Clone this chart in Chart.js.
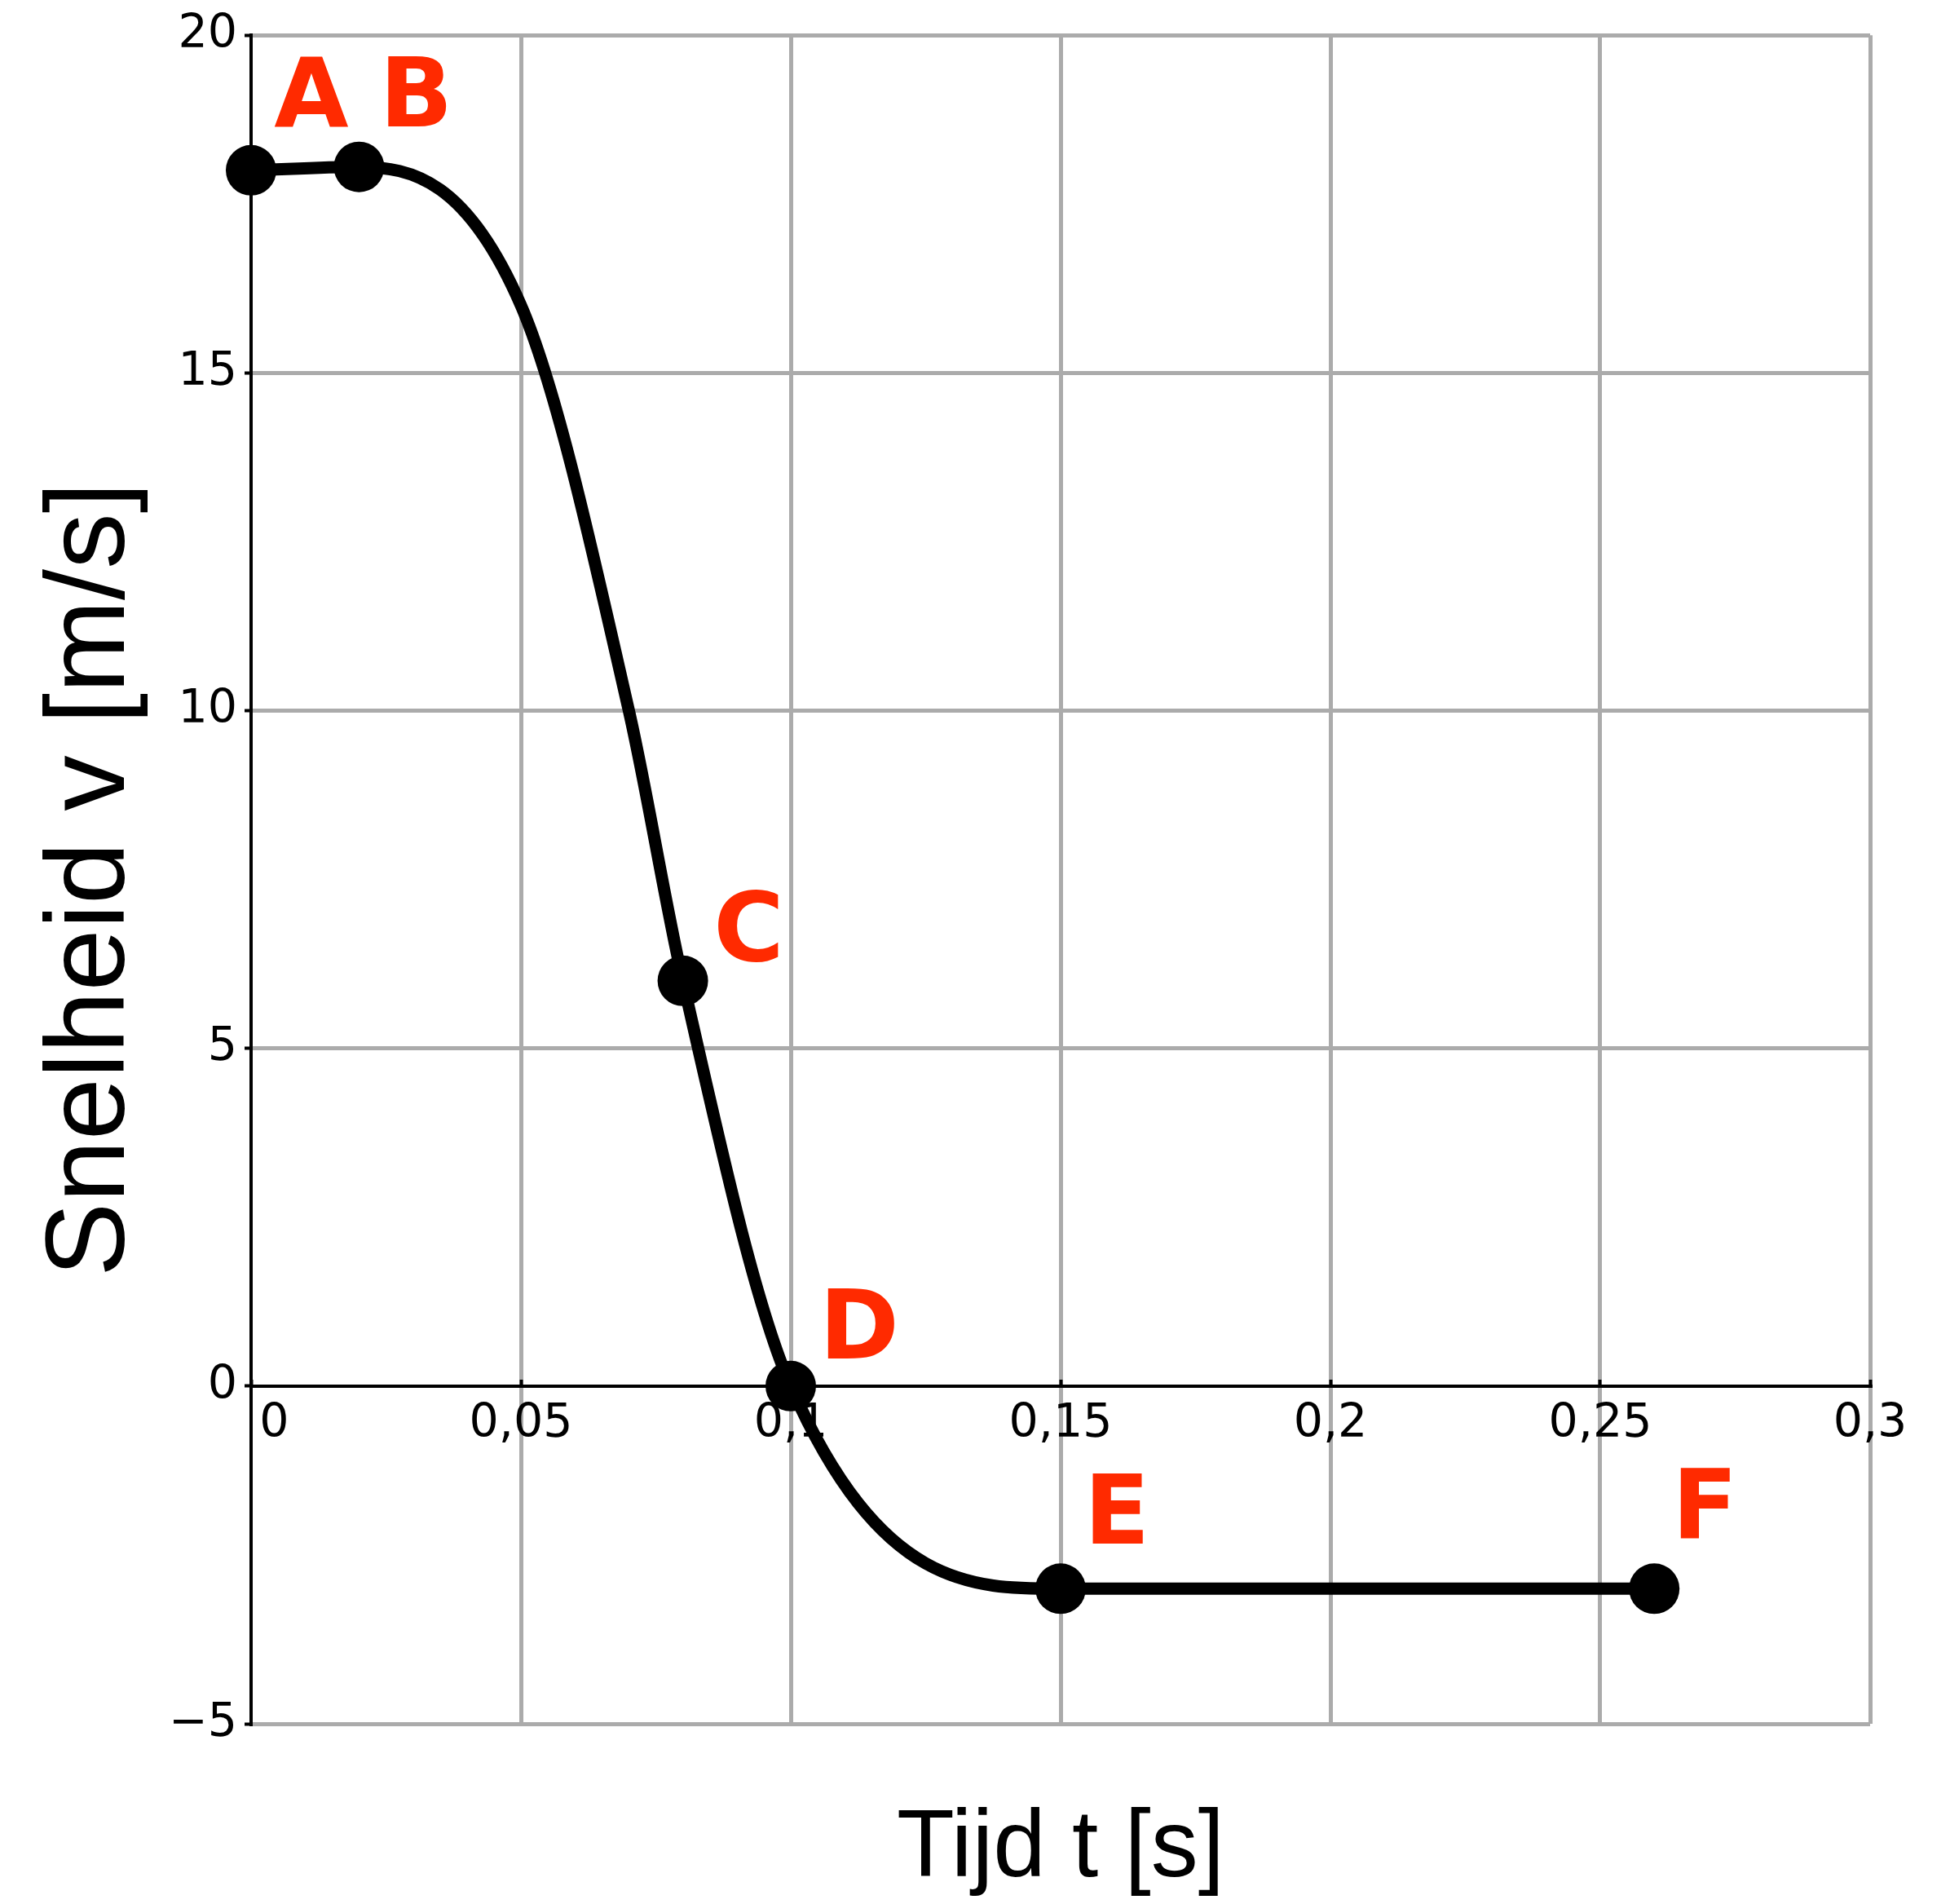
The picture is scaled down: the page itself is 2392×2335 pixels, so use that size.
<!DOCTYPE html>
<html><head><meta charset="utf-8">
<script src="https://cdn.jsdelivr.net/npm/chart.js@4.4.1/dist/chart.umd.min.js"></script>
<style>html,body{margin:0;padding:0;background:#fff;overflow:hidden}#wrap{width:2392px;height:2335px;position:relative}</style>
</head><body><div id="wrap"><canvas id="c"></canvas></div>
<script>
// curve (t in s, v in m/s)
const curveT = [0, 0.02, 0.05, 0.07, 0.08, 0.1, 0.15, 0.26];
const curveV = [18.0, 18.05, 16.0, 10.0, 6.0, 0, -3.0, -3.0];
// labelled points
const pointLabels = ['A', 'B', 'C', 'D', 'E', 'F'];
const pointT = [0, 0.02, 0.08, 0.1, 0.15, 0.26];
const pointV = [18.0, 18.05, 6.0, 0, -3.0, -3.0];
// tick labels
const xTickLabels = ['0', '0,05', '0,1', '0,15', '0,2', '0,25', '0,3'];
const yTickLabels = ['\u22125', '0', '5', '10', '15', '20'];
const xTitle = 'Tijd t [s]';
const yTitle = 'Snelheid v [m/s]';

const pointLabelPlugin = {
  id: 'pointLabels',
  afterDatasetsDraw(chart, args, opts) {
    const ctx = chart.ctx, xs = chart.scales.x, ys = chart.scales.y;
    ctx.save();
    ctx.font = 'bold ' + opts.size + 'px ' + opts.family;
    ctx.fillStyle = opts.color;
    ctx.textAlign = 'center';
    ctx.textBaseline = 'middle';
    pointLabels.forEach((lab, i) => {
      const off = opts.offsets[lab];
      ctx.fillText(lab, xs.getPixelForValue(pointT[i]) + off[0], ys.getPixelForValue(pointV[i]) + off[1]);
    });
    ctx.restore();
  }
};

const gridColor = c => (c.tick && c.tick.value === 0) ? 'rgba(0,0,0,0)' : '#ababab';
const tickFont = {family: '"DejaVu Sans"', size: 57};

new Chart(document.getElementById('c'), {
  type: 'line',
  data: {
    datasets: [
      {
        label: 'v(t)',
        data: curveT.map((t, i) => ({x: t, y: curveV[i]})),
        borderColor: '#000', borderWidth: 15, pointRadius: 0,
        cubicInterpolationMode: 'monotone', fill: false, clip: false,
        borderJoinStyle: 'round', borderCapStyle: 'round', order: 2
      },
      {
        label: 'punten', type: 'scatter',
        data: pointT.map((t, i) => ({x: t, y: pointV[i]})),
        pointRadius: 31, pointBackgroundColor: '#000', pointBorderWidth: 0,
        showLine: false, clip: false, order: 1
      }
    ]
  },
  options: {
    responsive: true, maintainAspectRatio: false, animation: false,
    layout: {padding: {top: 42, right: 98, bottom: 0, left: 0}},
    plugins: {
      legend: {display: false}, tooltip: {enabled: false},
      pointLabels: {
        size: 118, family: '"DejaVu Sans"', color: '#ff2a00',
        offsets: {A: [74, -84], B: [70, -80], C: [81, -56], D: [84, -64], E: [69, -86], F: [62, -93]}
      }
    },
    scales: {
      x: {
        type: 'linear', position: {y: 0}, min: 0, max: 0.3,
        ticks: {
          stepSize: 0.05, autoSkip: false, maxRotation: 0, padding: 23, color: '#000', font: tickFont,
          callback: (v, i) => i === 0 ? '\u2002\u2002' + xTickLabels[0] : xTickLabels[i]
        },
        grid: {color: gridColor, lineWidth: 5, tickLength: -10, tickColor: '#000', tickWidth: 4},
        border: {color: '#000', width: 4}
      },
      xTitle: {
        type: 'linear', axis: 'x', position: 'bottom', min: 0, max: 0.3,
        ticks: {display: false}, grid: {display: false}, border: {display: false},
        title: {display: true, text: xTitle, color: '#000', font: {family: '"Liberation Sans"', size: 116, lineHeight: 1}, padding: {top: 0, bottom: 8}},
        afterFit: s => { s.height = 221; }
      },
      y: {
        type: 'linear', position: 'left', min: -5, max: 20,
        ticks: {stepSize: 5, padding: 9, color: '#000', font: tickFont, callback: (v, i) => yTickLabels[i]},
        grid: {color: gridColor, lineWidth: 5, tickLength: 8, tickColor: '#000', tickWidth: 4},
        border: {color: '#000', width: 4},
        title: {display: true, text: yTitle, color: '#000', font: {family: '"Liberation Sans"', size: 137}, padding: {top: 32, bottom: 0}},
        afterFit: s => { s.width = 308; }
      }
    }
  },
  plugins: [pointLabelPlugin]
});
</script>
</body></html>
